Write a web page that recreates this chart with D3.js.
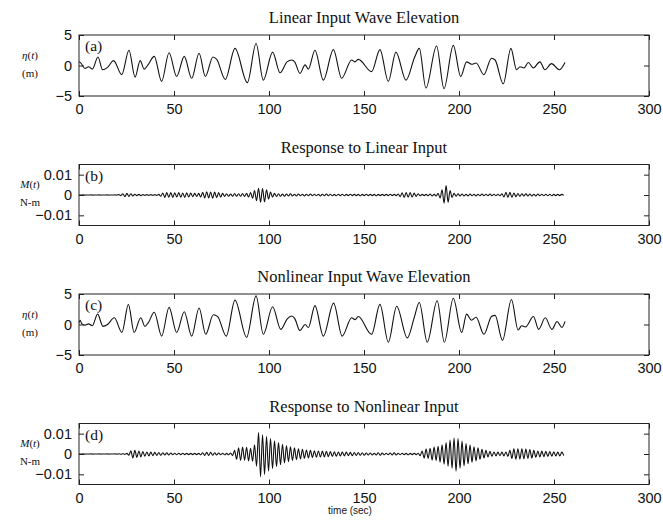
<!DOCTYPE html>
<html lang="en">
<head>
<meta charset="UTF-8" />
<title>Wave Elevation and Response</title>
<style>
  body { margin: 0; background: #fff; }
  .tick text { font-family: "Liberation Sans", Arial, sans-serif; font-size: 14.5px; fill: #111; }
  .tick line { stroke: #222; stroke-width: 1px; }
  .frame { fill: none; stroke: #222; stroke-width: 1px; }
  .title { font-family: "Liberation Serif", "DejaVu Serif", serif; font-size: 16.5px; fill: #111; }
  .tag { font-family: "Liberation Serif", "DejaVu Serif", serif; font-size: 15.5px; fill: #111; }
  .ylab { font-family: "Liberation Serif", "DejaVu Serif", serif; font-size: 11px; fill: #111; }
  .xlab { font-family: "Liberation Sans", Arial, sans-serif; font-size: 10px; fill: #111; }
  .trace { fill: none; stroke: #111; stroke-width: 1.1px; }
</style>
</head>
<body>
<script src="https://cdn.jsdelivr.net/npm/d3@7"></script>
<script>

// panel titles, tags and tick values
var panelTitles = ["Linear Input Wave Elevation", "Response to Linear Input",
                   "Nonlinear Input Wave Elevation", "Response to Nonlinear Input"];
var panelTags = ["(a)", "(b)", "(c)", "(d)"];
var timeTicks = [0, 50, 100, 150, 200, 250, 300];
var waveTicks = [-5, 0, 5];
var momentTicks = [-0.01, 0, 0.01];

// wave elevation (m), [time (s), value] read at the turning points
var linearWave = [
  [0,0.6],[1,0.4],[3.2,-0.5],[5,-0.2],[7,-0.6],[10,1.4],[12.4,-0.7],[15,-0.3],[18.2,0.8],
  [22.5,-1.5],[26.3,2.5],[29.5,-1.9],[32.2,0.8],[34.3,-0.6],[36.3,0.1],[39.6,1.5],[43.5,-2.6],
  [47.4,2.1],[51.4,-1.8],[55.4,1.5],[59.3,-2.1],[63.2,2.0],[66.5,-1.8],[70.5,1.4],[72.5,1.0],
  [77,-2.3],[82.1,2.8],[88.6,-2.8],[93.2,3.6],[97,-2.4],[101.9,2.2],[105.8,-1.2],[109.5,0.6],
  [112,0.9],[113.5,0.6],[116.3,-1.3],[119,0.1],[120.7,-0.6],[124.2,2.5],[128.6,-2.4],
  [133.9,2.6],[138.2,-2.1],[143.5,0.9],[145.2,0.6],[147,1.0],[154,-1.0],[158.4,2.6],
  [162.8,-2.6],[166.8,2.2],[172.1,-2.4],[176.7,1.4],[179.1,2.8],[182.6,-3.7],[188.2,3.2],
  [192.1,-3.8],[197,3.3],[200.9,-1.8],[204,0.6],[206.6,0.2],[209,0.4],[213.1,-1.5],
  [217.1,1.2],[219,0.9],[223.3,-3.0],[227.3,2.8],[230.3,-0.7],[232.1,-0.2],[234.2,-0.4],
  [236.5,0.5],[239.1,-0.4],[242.6,0.6],[245.2,-0.7],[248.7,0.3],[252.8,-0.7],[255.8,0.5]
];

var nonlinearWave = [
  [0,0.3],[0.6,0.7],[1.5,0.1],[3.2,-0.1],[5,0.1],[7,-0.2],[9.8,1.7],[12.6,-0.3],[15,0.0],
  [18.6,1.1],[22.6,-1.3],[26,3.3],[29,-1.3],[32.5,1.1],[34.7,-0.3],[36.5,0.3],[39.6,2.0],
  [43.5,-1.9],[47.4,2.8],[51.4,-1.3],[55.4,2.1],[59.3,-1.9],[63.2,2.7],[66.7,-1.6],[70.7,1.6],
  [73,1.3],[77.5,-1.9],[82.1,4.0],[88.2,-2.1],[93.2,4.7],[97,-1.6],[101.9,2.9],[106.2,-0.8],
  [109.5,0.9],[112,1.4],[113.5,1.0],[116.3,-1.0],[119,0.0],[120.7,-0.5],[124.2,3.1],
  [128.6,-1.9],[134,3.5],[138.5,-1.9],[143.5,1.1],[145.3,0.8],[147,1.3],[154,-1.6],
  [158.4,3.3],[162.8,-2.9],[167.2,3.0],[172.8,-2.2],[176.5,1.2],[179.1,3.6],[183.3,-2.9],
  [188.5,3.9],[192.3,-2.9],[197,4.3],[201.4,-1.3],[204,1.7],[206.6,0.7],[209,1.2],
  [213.1,-1.6],[217.1,1.3],[219,1.5],[222.9,-2.6],[227.6,4.1],[231.1,-0.9],[233,-0.2],
  [235,-0.4],[239.2,1.3],[241.9,-0.8],[245.4,1.1],[248.9,-0.8],[251.6,0.5],[254.2,-0.5],
  [255.8,0.5]
];

// moment response, in 1e-3 N-m, one value per half cycle (every 1.05 s)
var responseStep = 1.05;
var linearResponse = [
  0,0,0.05,-0.05,0,0,0.05,-0.05,0,0,0.05,-0.05,0,0,0.05,-0.05,0,0,0.05,-0.05,
  0.2,-0.3,0.6,-0.8,0.8,-0.7,0.6,-0.5,0.4,-0.3,0.3,-0.3,0.2,-0.2,0.2,-0.2,0.2,-0.2,0.2,-0.2,
  0.3,-0.6,1.0,-1.2,1.2,-1.1,1.2,-1.2,1.1,-1.0,1.2,-1.1,1.0,-1.2,1.1,-1.0,0.9,-0.8,0.8,-0.7,
  0.8,-1.0,1.3,-1.5,1.6,-1.4,1.5,-1.6,1.4,-1.3,1.2,-1.0,0.8,-0.7,0.6,-0.6,0.5,-0.6,0.7,-0.6,
  0.6,-0.6,0.7,-0.7,0.8,-1.0,1.2,-1.6,2.2,-2.8,3.3,-3.6,3.2,-3.4,2.6,-2.0,1.4,-1.0,0.8,-0.7,
  0.6,-0.6,0.5,-0.6,0.5,-0.5,0.6,-0.5,0.4,-0.5,0.5,-0.4,0.4,-0.5,0.4,-0.4,0.5,-0.4,0.4,-0.4,
  0.4,-0.5,0.4,-0.4,0.5,-0.4,0.4,-0.4,0.3,-0.4,0.4,-0.3,0.4,-0.4,0.3,-0.3,0.4,-0.3,0.3,-0.3,
  0.3,-0.4,0.3,-0.3,0.4,-0.3,0.3,-0.3,0.3,-0.4,0.3,-0.3,0.3,-0.3,0.3,-0.3,0.4,-0.3,0.3,-0.3,
  0.5,-0.8,1.1,-1.2,1.2,-1.1,1.2,-1.0,0.9,-0.7,0.6,-0.4,0.3,-0.3,0.3,-0.4,0.5,-0.5,0.4,-0.5,
  0.8,-1.5,2.5,-4.0,4.6,-3.5,2.2,-1.2,0.8,-0.6,0.6,-0.5,0.5,-0.5,0.4,-0.5,0.5,-0.4,0.4,-0.5,
  0.4,-0.4,0.5,-0.4,0.4,-0.4,0.5,-0.4,0.4,-0.4,0.4,-0.4,0.6,-1.0,1.3,-1.2,1.3,-1.1,1.0,-0.8,
  0.7,-0.6,0.6,-0.5,0.6,-0.5,0.5,-0.5,0.4,-0.5,0.5,-0.4,0.4,-0.4,0.4,-0.4,0.4,-0.4,0.3,-0.3,
  0.3,-0.3,0.3,-0.2
];

var nonlinearResponse = [
  0,0,0.05,-0.05,0,0,0.05,-0.05,0,0,0.05,-0.05,0,0,0.05,-0.05,0,0,0.05,-0.05,
  0.1,-0.1,0.1,-0.2,0.3,-0.6,1.6,-2.0,1.8,-1.7,1.5,-1.4,1.2,-1.1,1.0,-0.9,0.9,-0.8,0.8,-0.7,
  0.7,-0.6,0.6,-0.5,0.6,-0.5,0.5,-0.4,0.4,-0.4,0.4,-0.3,0.4,-0.3,0.3,-0.3,0.3,-0.3,0.3,-0.3,
  0.3,-0.4,0.6,-0.7,0.8,-0.7,0.8,-0.6,0.6,-0.5,0.5,-0.4,0.4,-0.4,0.3,-0.4,0.5,-0.8,1.8,-2.6,
  3.0,-3.2,3.4,-3.0,3.3,-3.4,2.8,-3.6,4.5,-6.0,10.5,-11.2,9.4,-10.0,8.6,-8.4,7.6,-7.2,6.5,-6.2,
  5.6,-5.2,4.8,-4.4,4.0,-3.8,3.5,-3.2,3.0,-2.8,2.6,-2.4,2.3,-2.1,2.0,-1.9,1.8,-1.7,1.6,-1.6,
  1.5,-1.5,1.4,-1.4,1.3,-1.3,1.2,-1.2,1.1,-1.1,1.0,-1.0,1.0,-0.9,0.9,-0.8,0.8,-0.8,0.7,-0.7,
  0.7,-0.6,0.6,-0.6,0.5,-0.5,0.5,-0.5,0.4,-0.5,0.6,-0.6,0.5,-0.4,0.4,-0.4,0.5,-0.5,0.6,-0.5,
  0.4,-0.4,0.4,-0.3,0.3,-0.4,0.3,-0.3,0.3,-0.3,0.4,-0.8,1.5,-2.0,2.4,-2.2,2.8,-3.0,3.4,-3.2,
  3.8,-4.0,4.5,-5.0,5.6,-6.0,6.8,-7.0,7.8,-8.4,7.6,-7.0,6.4,-5.8,5.2,-4.8,4.4,-4.0,3.6,-3.4,
  3.0,-2.6,2.3,-2.0,1.8,-1.5,1.3,-1.1,1.0,-0.9,0.9,-0.8,0.9,-0.9,1.0,-1.2,1.8,-2.2,2.5,-2.6,
  2.6,-2.5,2.6,-2.4,2.4,-2.2,2.2,-2.0,1.8,-1.6,1.5,-1.4,1.4,-1.3,1.3,-1.2,1.2,-1.1,1.1,-1.0,
  1.0,-1.0,0.9,-0.8
];

var w = 663, h = 521;
var left = 79, right = 649, firstTop = 35, panelGap = 129.5, panelH = 61;

var svg = d3.select("body").append("svg")
  .attr("width", w)
  .attr("height", h);

var xScale = d3.scaleLinear()
  .domain([0, 300])
  .range([0, right - left]);

function toPoints(values) {
  return values.map(function(v, i) { return [i * responseStep, v / 1000]; });
}

var panels = [
  { data: linearWave, domain: [-5, 5], ticks: waveTicks, sym: "η", unit: "(m)" },
  { data: toPoints(linearResponse), domain: [-0.015, 0.015], ticks: momentTicks, sym: "M", unit: "N-m" },
  { data: nonlinearWave, domain: [-5, 5], ticks: waveTicks, sym: "η", unit: "(m)" },
  { data: toPoints(nonlinearResponse), domain: [-0.015, 0.015], ticks: momentTicks, sym: "M", unit: "N-m" }
];

panels.forEach(function(p, i) {

  var top = firstTop + i * panelGap;

  var yScale = d3.scaleLinear()
    .domain(p.domain)
    .range([panelH, 0]);

  var g = svg.append("g")
    .attr("transform", "translate(" + left + "," + top + ")");

  // the trace
  var line = d3.line()
    .x(function(d) { return xScale(d[0]); })
    .y(function(d) { return yScale(d[1]); })
    .curve(d3.curveMonotoneX);

  g.append("path")
    .datum(p.data)
    .attr("class", "trace")
    .attr("d", line);

  // axes with inward ticks on all four sides
  g.append("g")
    .attr("transform", "translate(0," + panelH + ")")
    .call(d3.axisBottom(xScale).tickValues(timeTicks).tickSize(-5).tickPadding(8))
    .call(function(a) { a.select(".domain").remove(); });

  g.append("g")
    .call(d3.axisTop(xScale).tickValues(timeTicks).tickSize(-5).tickFormat(""))
    .call(function(a) { a.select(".domain").remove(); });

  g.append("g")
    .call(d3.axisLeft(yScale).tickValues(p.ticks).tickSize(-5).tickPadding(7).tickFormat(d3.format("~g")))
    .call(function(a) { a.select(".domain").remove(); });

  g.append("g")
    .attr("transform", "translate(" + (right - left) + ",0)")
    .call(d3.axisRight(yScale).tickValues(p.ticks).tickSize(-5).tickFormat(""))
    .call(function(a) { a.select(".domain").remove(); });

  g.append("rect")
    .attr("class", "frame")
    .attr("width", right - left)
    .attr("height", panelH);

  // title and tag
  svg.append("text")
    .attr("class", "title")
    .attr("x", left + (right - left) / 2)
    .attr("y", top - 12)
    .attr("text-anchor", "middle")
    .text(panelTitles[i]);

  g.append("text")
    .attr("class", "tag")
    .attr("x", 6)
    .attr("y", 16)
    .text(panelTags[i]);

  // y label, two lines
  var zeroY = top + yScale(0);
  var lab = svg.append("text")
    .attr("class", "ylab")
    .attr("x", 30)
    .attr("y", zeroY - 7)
    .attr("text-anchor", "middle");
  lab.append("tspan").style("font-style", "italic").text(p.sym);
  lab.append("tspan").text("(");
  lab.append("tspan").style("font-style", "italic").text("t");
  lab.append("tspan").text(")");

  svg.append("text")
    .attr("class", "ylab")
    .attr("x", 30)
    .attr("y", zeroY + 11)
    .attr("text-anchor", "middle")
    .text(p.unit);
});

svg.append("text")
  .attr("class", "xlab")
  .attr("x", 350)
  .attr("y", 514)
  .attr("text-anchor", "middle")
  .text("time (sec)");

</script>
</body>
</html>
